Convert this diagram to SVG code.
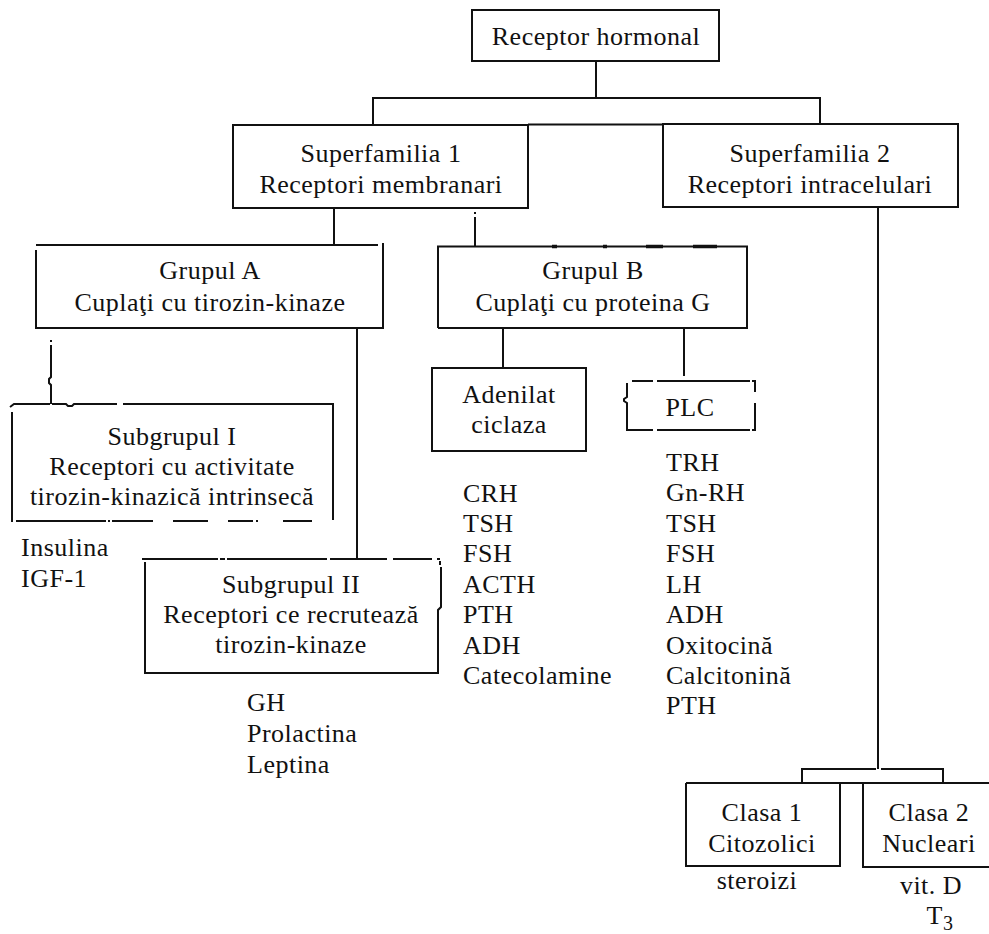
<svg xmlns="http://www.w3.org/2000/svg" width="989" height="934" viewBox="0 0 989 934">
  <style>
    .ln { fill: none; stroke: #111; stroke-width: 2; stroke-linecap: butt; }
    .bx { fill: none; stroke: #111; stroke-width: 2; }
    .tk { fill: none; stroke: #111; stroke-width: 3.5; }
    text { font-family: "Liberation Serif", "Times New Roman", serif; font-size: 26px; fill: #111; letter-spacing: 0.5px; }
    .c { text-anchor: middle; }
  </style>
  <rect width="989" height="934" fill="#fff"/>

  <!-- connectors -->
  <g id="connectors">
    <path class="ln" d="M596,61 V98"/>
    <path class="ln" d="M373,125 V98 H820 V124"/>
    <path class="ln" d="M528,124.5 H663"/>
    <path class="ln" d="M334,208 V246"/>
    <path class="ln" d="M475,212 V214 M475,217 V246"/>
    <path class="ln" d="M51,340 V342 M51,345 V377 L49,379 V383 L51,385 V404"/>
    <path class="ln" d="M357,328 V559"/>
    <path class="ln" d="M503,328 V368"/>
    <path class="ln" d="M684,328 V376"/>
    <path class="ln" d="M878,207 V769"/>
    <path class="ln" d="M802,783 V769 H876 M881,769 H943 V783"/>
  </g>

  <!-- root -->
  <g id="receptor-hormonal">
    <rect class="bx" x="472" y="10" width="247" height="51"/>
    <text class="c" x="596" y="45">Receptor hormonal</text>
  </g>

  <!-- superfamily 1 -->
  <g id="superfamilia-1">
    <rect class="bx" x="233" y="125" width="295" height="83"/>
    <text class="c" x="381" y="162">Superfamilia 1</text>
    <text class="c" x="381" y="193">Receptori membranari</text>
  </g>

  <!-- superfamily 2 -->
  <g id="superfamilia-2">
    <rect class="bx" x="663" y="124" width="295" height="83"/>
    <text class="c" x="810" y="162">Superfamilia 2</text>
    <text class="c" x="810" y="193">Receptori intracelulari</text>
  </g>

  <!-- group A -->
  <g id="grupul-a">
    <path class="bx" d="M36,245 H378 M383,243 V328 H36 V250"/>
    <text class="c" x="210" y="279">Grupul A</text>
    <text class="c" x="210" y="311">Cuplaţi cu tirozin-kinaze</text>
  </g>

  <!-- group B -->
  <g id="grupul-b">
    <path class="bx" d="M438,328 V246.5 H747 V328 H438"/>
    <path class="tk" d="M552,246.5 H557 M603,246.5 H607 M646,246.5 H663 M693,246.5 H717"/>
    <text class="c" x="593" y="279">Grupul B</text>
    <text class="c" x="593" y="311">Cuplaţi cu proteina G</text>
  </g>

  <!-- subgroup I (dashed outline) -->
  <g id="subgrupul-1">
    <path class="bx" d="M10,407 L14,404 H50 M52,404 H66 L68,406 H72 L74,404 H117 M123,404 H333 V520"/>
    <path class="bx" d="M12,412 V522"/>
    <path class="bx" d="M16,521 H106 M108,521 H110 M112,521 H153 M173,521 H208 M228,521 H253 M256,521 H258 M283,521 H312"/>
    <text class="c" x="172" y="445">Subgrupul I</text>
    <text class="c" x="172" y="475">Receptori cu activitate</text>
    <text class="c" x="172" y="505">tirozin-kinazică intrinsecă</text>
  </g>

  <!-- subgroup II (dashed outline) -->
  <g id="subgrupul-2">
    <path class="bx" d="M142,559 H218 M220,559 H225 M227,559 H327 M330,559 H387 M393,559 H432 M437,559 H440"/>
    <path class="bx" d="M440,561 V565 M441,567 V607 L438,610 V673 H145 V562"/>
    <text class="c" x="291" y="593">Subgrupul II</text>
    <text class="c" x="291" y="623">Receptori ce recrutează</text>
    <text class="c" x="291" y="653">tirozin-kinaze</text>
  </g>

  <!-- adenylate cyclase -->
  <g id="adenilat-ciclaza">
    <rect class="bx" x="432" y="368" width="154" height="83"/>
    <text class="c" x="509" y="403">Adenilat</text>
    <text class="c" x="509" y="433">ciclaza</text>
  </g>

  <!-- phospholipase C (broken outline) -->
  <g id="plc">
    <path class="bx" d="M632,381 H653 M657,381 H750 M752,381 H756"/>
    <path class="bx" d="M628,430 H653 M657,430 H750 M752,430 H756"/>
    <path class="bx" d="M627,383 V397 L624,399 V401 L627,403 V431"/>
    <path class="bx" d="M755,382 V392 M755,403 V431"/>
    <text class="c" x="690" y="416">PLC</text>
  </g>

  <!-- class 1 -->
  <g id="clasa-1">
    <path class="bx" d="M686,783 H989"/>
    <path class="bx" d="M686,783 V866 H840 V783"/>
    <text class="c" x="762" y="821">Clasa 1</text>
    <text class="c" x="762" y="852">Citozolici</text>
  </g>

  <!-- class 2 -->
  <g id="clasa-2">
    <path class="bx" d="M863,783 V867 H989"/>
    <text class="c" x="929" y="821">Clasa 2</text>
    <text class="c" x="929" y="852">Nucleari</text>
  </g>

  <!-- hormone lists -->
  <g id="lista-subgrupul-1">
    <text x="21" y="556">Insulina</text>
    <text x="21" y="587">IGF-1</text>
  </g>
  <g id="lista-subgrupul-2">
    <text x="247" y="711">GH</text>
    <text x="247" y="742">Prolactina</text>
    <text x="247" y="773">Leptina</text>
  </g>
  <g id="lista-adenilat">
    <text x="463" y="502">CRH</text>
    <text x="463" y="532">TSH</text>
    <text x="463" y="562">FSH</text>
    <text x="463" y="593">ACTH</text>
    <text x="463" y="623">PTH</text>
    <text x="463" y="654">ADH</text>
    <text x="463" y="684">Catecolamine</text>
  </g>
  <g id="lista-plc">
    <text x="666" y="471">TRH</text>
    <text x="666" y="501">Gn-RH</text>
    <text x="666" y="532">TSH</text>
    <text x="666" y="562">FSH</text>
    <text x="666" y="593">LH</text>
    <text x="666" y="623">ADH</text>
    <text x="666" y="654">Oxitocină</text>
    <text x="666" y="684">Calcitonină</text>
    <text x="666" y="714">PTH</text>
  </g>
  <g id="lista-clase">
    <text class="c" x="757" y="889">steroizi</text>
    <text class="c" x="931" y="894">vit. D</text>
    <text class="c" x="940" y="924">T<tspan font-size="20" dy="6">3</tspan></text>
  </g>
</svg>
